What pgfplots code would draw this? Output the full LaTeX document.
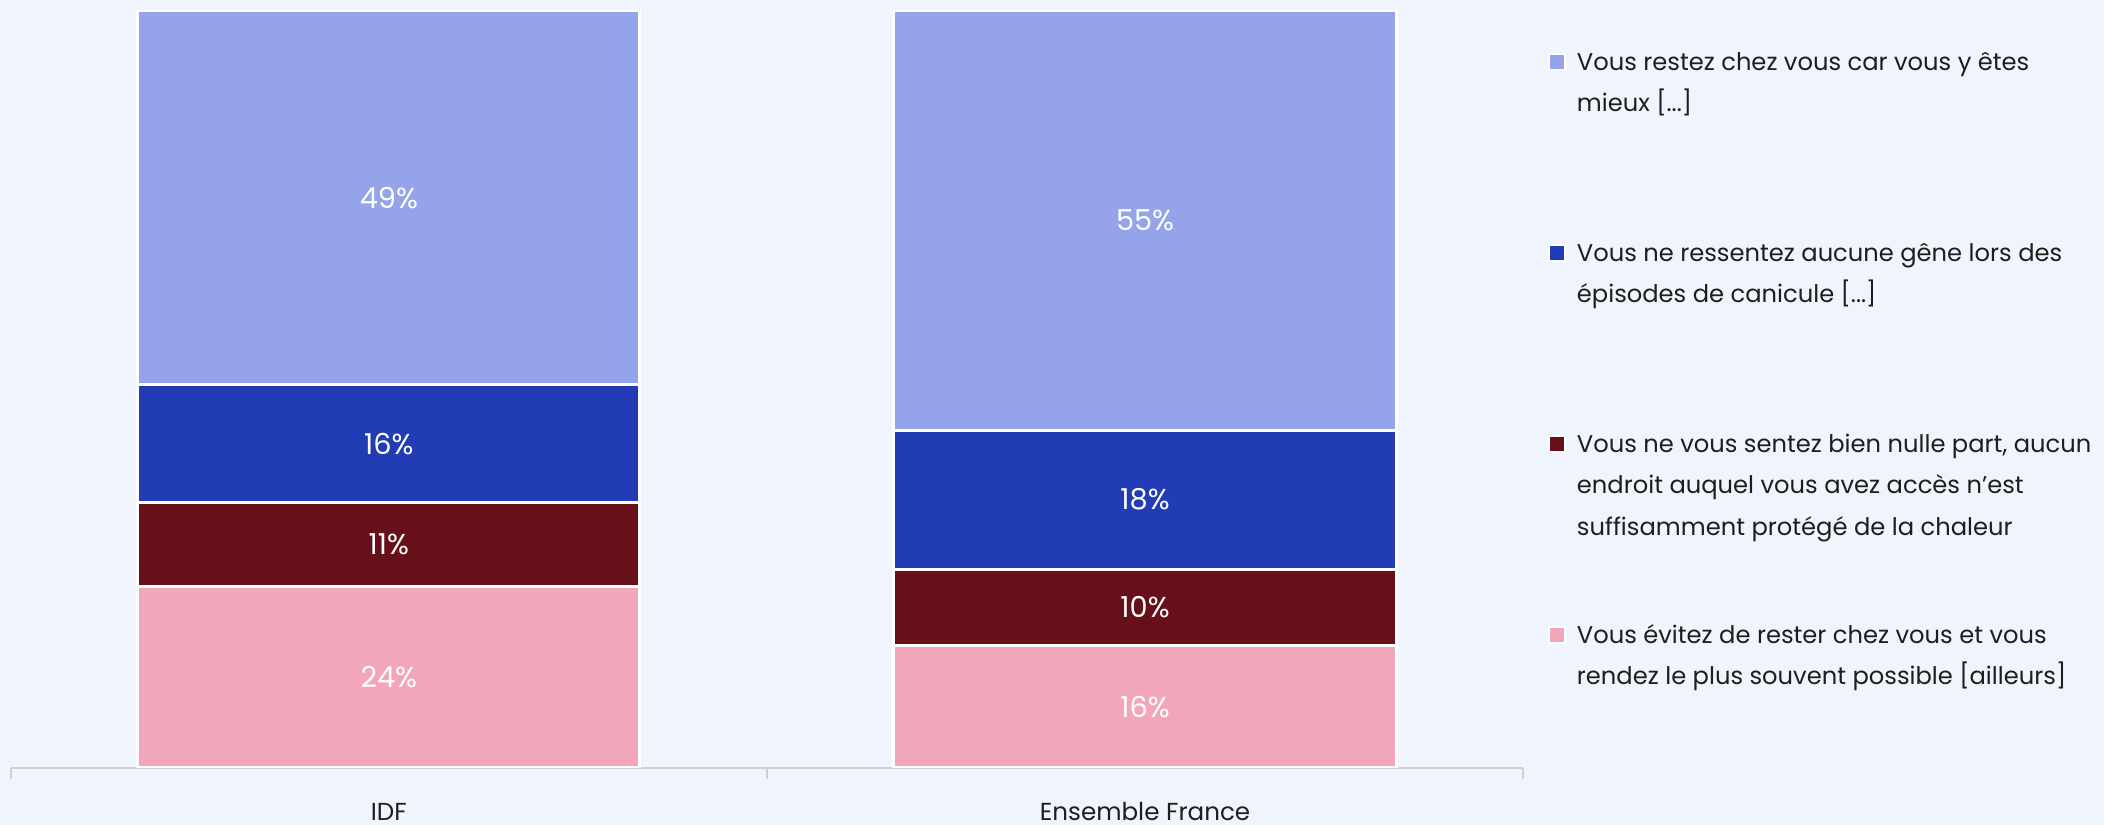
\documentclass[border=0pt]{standalone}
\usepackage{pgfplots}
\pgfplotsset{compat=1.18}
\usepackage{fontspec}
\setmainfont{Poppins}

\definecolor{bg}{HTML}{F0F4FC}
\definecolor{c1}{HTML}{95A3EB}
\definecolor{c2}{HTML}{213CB5}
\definecolor{c3}{HTML}{671019}
\definecolor{c4}{HTML}{F2A6B9}
\definecolor{axisgray}{HTML}{CDD1D9}
\definecolor{txt}{HTML}{1E1E1E}

% legend entry: top-aligned box, first line on the baseline
\newcommand{\legtxt}[1]{\parbox[t]{140pt}{\raggedright\strut #1}}

\begin{document}
\begin{tikzpicture}
\fill[bg] (-2.68pt,-14.35pt) rectangle (523.32pt,191.9pt);
\begin{axis}[
  at={(0,0)}, anchor=south west,
  width=378.1pt, height=189.2pt, scale only axis,
  ybar stacked, bar width=0.664,
  xmin=-0.5, xmax=1.5, ymin=0, ymax=100,
  axis y line=none, axis x line*=bottom,
  x axis line style={-, axisgray, line width=0.5pt},
  tick align=outside,
  xtick={-0.5,0.5,1.5}, xticklabels={},
  major tick length=2.75pt,
  xtick style={axisgray, line width=0.4pt},
  extra x ticks={0,1}, extra x tick labels={IDF,Ensemble France},
  extra x tick style={major tick length=0pt},
  xticklabel style={font=\fontsize{6.15}{8}\selectfont, text=txt, anchor=base, inner sep=0pt, yshift=-13.1pt},
  every axis plot/.append style={draw=white, line width=0.75pt},
  visualization depends on=rawy\as\rawy,
  nodes near coords={\pgfmathprintnumber[fixed,precision=0,assume math mode=true]{\rawy}\%},
  every node near coord/.append style={anchor=center, text=white,
    font=\fontsize{7.2}{8}\selectfont},
  reverse legend,
  legend image code/.code={\draw[#1, draw=white, line width=0.4pt] (0pt,0pt) rectangle (4pt,4pt);},
  legend style={at={(1,1)}, anchor=north west, xshift=6.1pt, yshift=-9.6pt,
    draw=none, fill=none, inner sep=0pt, row sep=2.75pt, column sep=2.75pt,
    nodes={inner sep=0pt, text height=5pt, text depth=40pt,
      font=\fontsize{6.05}{10.4}\selectfont, text=txt},
    cells={anchor=base west}},
]
\addplot[fill=c4] coordinates {(0,23.9) (1,16.1)};
\addlegendentry{\legtxt{Vous évitez de rester chez vous et vous\\rendez le plus souvent possible [ailleurs]}}
\addplot[fill=c3] coordinates {(0,11.1) (1,10.1)};
\addlegendentry{\legtxt{Vous ne vous sentez bien nulle part, aucun\\endroit auquel vous avez accès n’est\\suffisamment protégé de la chaleur}}
\addplot[fill=c2] coordinates {(0,15.6) (1,18.4)};
\addlegendentry{\legtxt{Vous ne ressentez aucune gêne lors des\\épisodes de canicule [...]}}
\addplot[fill=c1] coordinates {(0,49.4) (1,55.4)};
\addlegendentry{\legtxt{Vous restez chez vous car vous y êtes\\mieux [...]}}
\end{axis}
\pgfresetboundingbox
\useasboundingbox (-2.68pt,-14.35pt) rectangle (523.32pt,191.9pt);
\end{tikzpicture}
\end{document}
